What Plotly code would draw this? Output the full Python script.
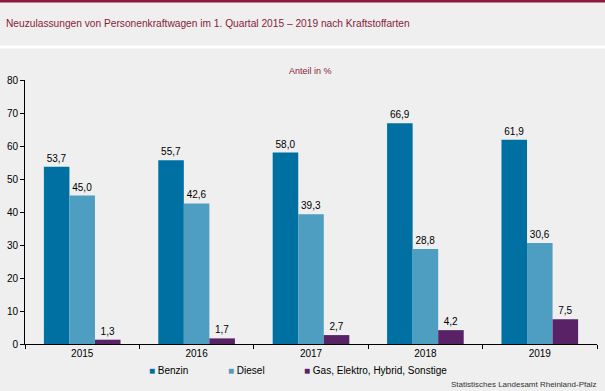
import plotly.graph_objects as go

years = ["2015", "2016", "2017", "2018", "2019"]
benzin = [53.7, 55.7, 58.0, 66.9, 61.9]
diesel = [45.0, 42.6, 39.3, 28.8, 30.6]
sonstige = [1.3, 1.7, 2.7, 4.2, 7.5]
series_names = ["Benzin", "Diesel", "Gas, Elektro, Hybrid, Sonstige"]
colors = ["#0070a2", "#4e9ec2", "#5a2266"]
legend_x = [147, 226, 302]

FONT = "Liberation Sans, Arial"

fig = go.Figure()
for name, vals, col in zip(series_names, [benzin, diesel, sonstige], colors):
    fig.add_trace(go.Bar(
        x=years, y=vals, name=name, marker_color=col, marker_line_width=0,
        texttemplate="%{y:.1f}", textposition="outside",
        textfont=dict(size=10, color="black", family=FONT),
        cliponaxis=False, showlegend=False,
    ))

W, H = 605, 391
l, r, t, b = 25, 8, 80, 47
ph = H - t - b

def py(p):
    return (H - b - p) / ph

def px(p):
    return (p - l) / (W - l - r)

annotations = [
    dict(text="Neuzulassungen von Personenkraftwagen im 1. Quartal 2015 – 2019 nach Kraftstoffarten",
         xref="paper", yref="paper", x=px(4), y=py(24), xanchor="left", yanchor="middle",
         showarrow=False, font=dict(size=10.2, color="#8b1a3a", family=FONT)),
    dict(text="Anteil in %", xref="paper", yref="paper", x=px(310), y=py(71),
         xanchor="center", yanchor="middle", showarrow=False,
         font=dict(size=9, color="#8b1a3a", family=FONT)),
    dict(text="Statistisches Landesamt Rheinland-Pfalz", xref="paper", yref="paper",
         x=px(598), y=py(384), xanchor="right", yanchor="middle", showarrow=False,
         font=dict(size=8, color="#333333", family=FONT)),
]
for name, col, lx in zip(series_names, colors, legend_x):
    annotations.append(dict(
        text=f'<span style="color:{col};font-size:10px">■</span> {name}',
        xref="paper", yref="paper", x=px(lx), y=py(370), xanchor="left", yanchor="middle",
        showarrow=False, font=dict(size=10, color="black", family=FONT)))

fig.update_layout(
    width=W, height=H,
    margin=dict(l=l, r=r, t=t, b=b, autoexpand=False),
    paper_bgcolor="#eeefee", plot_bgcolor="#eeefee",
    separators=",.",
    barmode="group", bargap=0.33, bargroupgap=0,
    font=dict(family=FONT, size=10, color="black"),
    showlegend=False,
    xaxis=dict(showline=True, linecolor="black", linewidth=1, ticks="outside",
               tickson="boundaries", ticklen=4, tickcolor="black",
               tickfont=dict(size=10), showgrid=False),
    yaxis=dict(range=[0, 80], dtick=10, showline=True, linecolor="black", linewidth=1,
               ticks="outside", ticklen=4, tickcolor="black", showgrid=False,
               zeroline=False, tickfont=dict(size=10)),
    shapes=[
        dict(type="rect", xref="paper", yref="paper", x0=px(0), x1=px(W),
             y0=py(2.5), y1=py(0), fillcolor="#8b1a3a", line_width=0, layer="above"),
        dict(type="rect", xref="paper", yref="paper", x0=px(0), x1=px(W),
             y0=py(48.5), y1=py(45.5), fillcolor="#ffffff", line_width=0),
    ],
    annotations=annotations,
)

fig.write_html("out.html", config={"displayModeBar": False},
               post_script="document.body.style.margin='0px';")
